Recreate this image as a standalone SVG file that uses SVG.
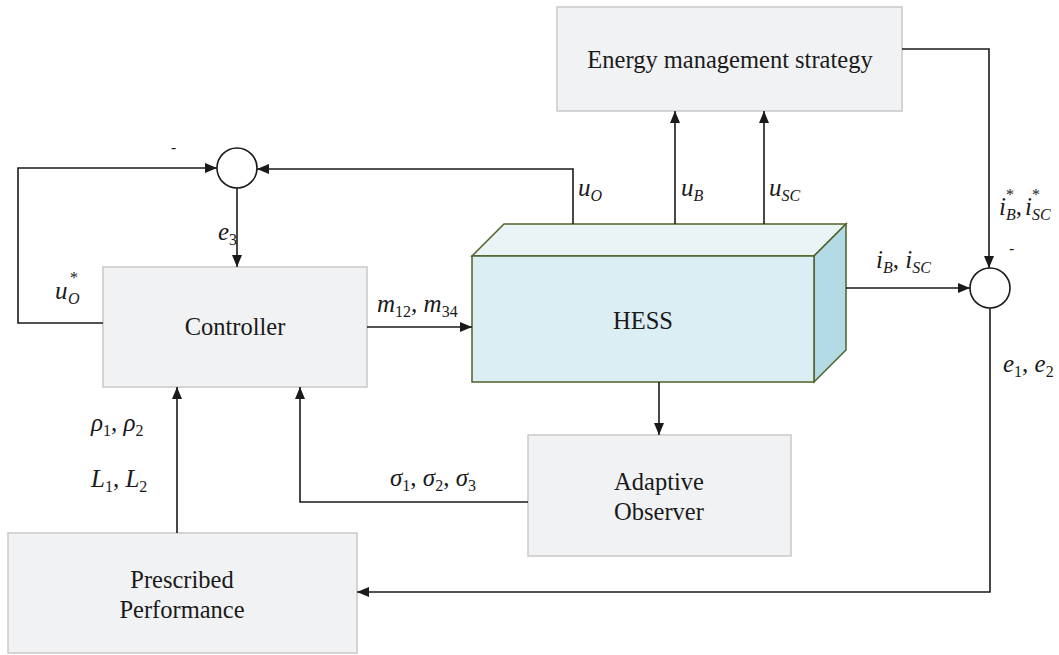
<svg xmlns="http://www.w3.org/2000/svg" width="1059" height="655" viewBox="0 0 1059 655">
<defs>
<marker id="arr" viewBox="0 0 12 10" refX="12" refY="5" markerWidth="12" markerHeight="10" markerUnits="userSpaceOnUse" orient="auto">
<path d="M0,0 L12,5 L0,10 z" fill="#1a1a1a"/>
</marker>
</defs>
<style>
.box{fill:#f1f2f4;stroke:#c9c9c9;stroke-width:1.5}
.lbl{font-family:'Liberation Serif','Times New Roman',serif;font-size:24.5px;fill:#1a1a1a;text-anchor:middle}
.m{font-family:'Liberation Serif','Times New Roman',serif;font-size:25px;font-style:italic;fill:#1a1a1a}
.sub{font-size:16px}
.up{font-style:normal}
.c{fill:none;stroke:#1a1a1a;stroke-width:1.6}
.sum{fill:#fff;stroke:#1a1a1a;stroke-width:1.6}
.minus{font-family:'Liberation Sans',Arial,sans-serif;font-size:16px;fill:#1a1a1a}
</style>
<g id="ems">
<rect class="box" x="557" y="7" width="345" height="104"/>
<text class="lbl" x="730" y="68">Energy management strategy</text>
</g>
<g id="controller">
<rect class="box" x="103" y="267" width="264" height="120"/>
<text class="lbl" x="235" y="335">Controller</text>
</g>
<g id="hess">
<polygon points="472,256 504,224 846,224 814,256" fill="#eaf4f7" stroke="#4f6228" stroke-width="1.5"/>
<polygon points="814,256 846,224 846,350 814,382" fill="#b2dbe6" stroke="#4f6228" stroke-width="1.5"/>
<rect x="472" y="256" width="342" height="126" fill="#daeef3" stroke="#4f6228" stroke-width="1.5"/>
<text class="lbl" x="643" y="329">HESS</text>
</g>
<g id="observer">
<rect class="box" x="528" y="435" width="263" height="121"/>
<text class="lbl" x="659" y="490">Adaptive</text>
<text class="lbl" x="659" y="520">Observer</text>
</g>
<g id="prescribed">
<rect class="box" x="8" y="533" width="349" height="120"/>
<text class="lbl" x="182" y="588">Prescribed</text>
<text class="lbl" x="182" y="618">Performance</text>
</g>
<g id="sum1">
<circle class="sum" cx="237" cy="168" r="20"/>
<text class="minus" x="171" y="153">-</text>
</g>
<g id="sum2">
<circle class="sum" cx="990" cy="288" r="20"/>
<text class="minus" x="1009" y="254">-</text>
</g>
<g id="connectors">
<polyline class="c" points="103,323 18,323 18,168 217,168" marker-end="url(#arr)"/>
<polyline class="c" points="573,224 573,169 257,169" marker-end="url(#arr)"/>
<line class="c" x1="237" y1="188" x2="237" y2="267" marker-end="url(#arr)"/>
<line class="c" x1="675" y1="224" x2="675" y2="111" marker-end="url(#arr)"/>
<line class="c" x1="764" y1="224" x2="764" y2="111" marker-end="url(#arr)"/>
<polyline class="c" points="902,49 989,49 989,268" marker-end="url(#arr)"/>
<line class="c" x1="367" y1="327" x2="472" y2="327" marker-end="url(#arr)"/>
<line class="c" x1="846" y1="288" x2="970" y2="288" marker-end="url(#arr)"/>
<line class="c" x1="659" y1="382" x2="659" y2="435" marker-end="url(#arr)"/>
<polyline class="c" points="528,502 300,502 300,387" marker-end="url(#arr)"/>
<line class="c" x1="177" y1="533" x2="177" y2="387" marker-end="url(#arr)"/>
<polyline class="c" points="990,308 990,592 357,592" marker-end="url(#arr)"/>
</g>
<g id="labels">
<text class="m" x="55" y="299">u<tspan class="sub" x="68" dy="5">O</tspan></text>
<text class="m sub up" x="70" y="283">*</text>
<text class="m" x="218" y="240">e<tspan class="sub up" dy="5">3</tspan></text>
<text class="m" x="578" y="196">u<tspan class="sub" dy="5">O</tspan></text>
<text class="m" x="681" y="196">u<tspan class="sub" dy="5">B</tspan></text>
<text class="m" x="769" y="196">u<tspan class="sub" dy="5">SC</tspan></text>
<text class="m" x="377" y="312">m<tspan class="sub up" dy="5">12</tspan><tspan dy="-5">, m</tspan><tspan class="sub up" dy="5">34</tspan></text>
<text class="m" x="876" y="268">i<tspan class="sub" dy="5">B</tspan><tspan dy="-5" class="up">, </tspan>i<tspan class="sub" dy="5">SC</tspan></text>
<text class="m" x="999" y="215">i<tspan class="sub" dy="5">B</tspan><tspan dy="-5" class="up">,</tspan></text>
<text class="m sub up" x="1006" y="200">*</text>
<text class="m" x="1025" y="215">i<tspan class="sub" dy="5">SC</tspan></text>
<text class="m sub up" x="1032" y="200">*</text>
<text class="m" x="1003" y="372">e<tspan class="sub up" dy="5">1</tspan><tspan dy="-5" class="up">, </tspan>e<tspan class="sub up" dy="5">2</tspan></text>
<text class="m" x="91" y="431">ρ<tspan class="sub up" dy="5">1</tspan><tspan dy="-5" class="up">, </tspan>ρ<tspan class="sub up" dy="5">2</tspan></text>
<text class="m" x="91" y="487">L<tspan class="sub up" dy="5">1</tspan><tspan dy="-5" class="up">, </tspan>L<tspan class="sub up" dy="5">2</tspan></text>
<text class="m" x="390" y="486">σ<tspan class="sub up" dy="5">1</tspan><tspan dy="-5" class="up">, </tspan>σ<tspan class="sub up" dy="5">2</tspan><tspan dy="-5" class="up">, </tspan>σ<tspan class="sub up" dy="5">3</tspan></text>
</g>
</svg>
